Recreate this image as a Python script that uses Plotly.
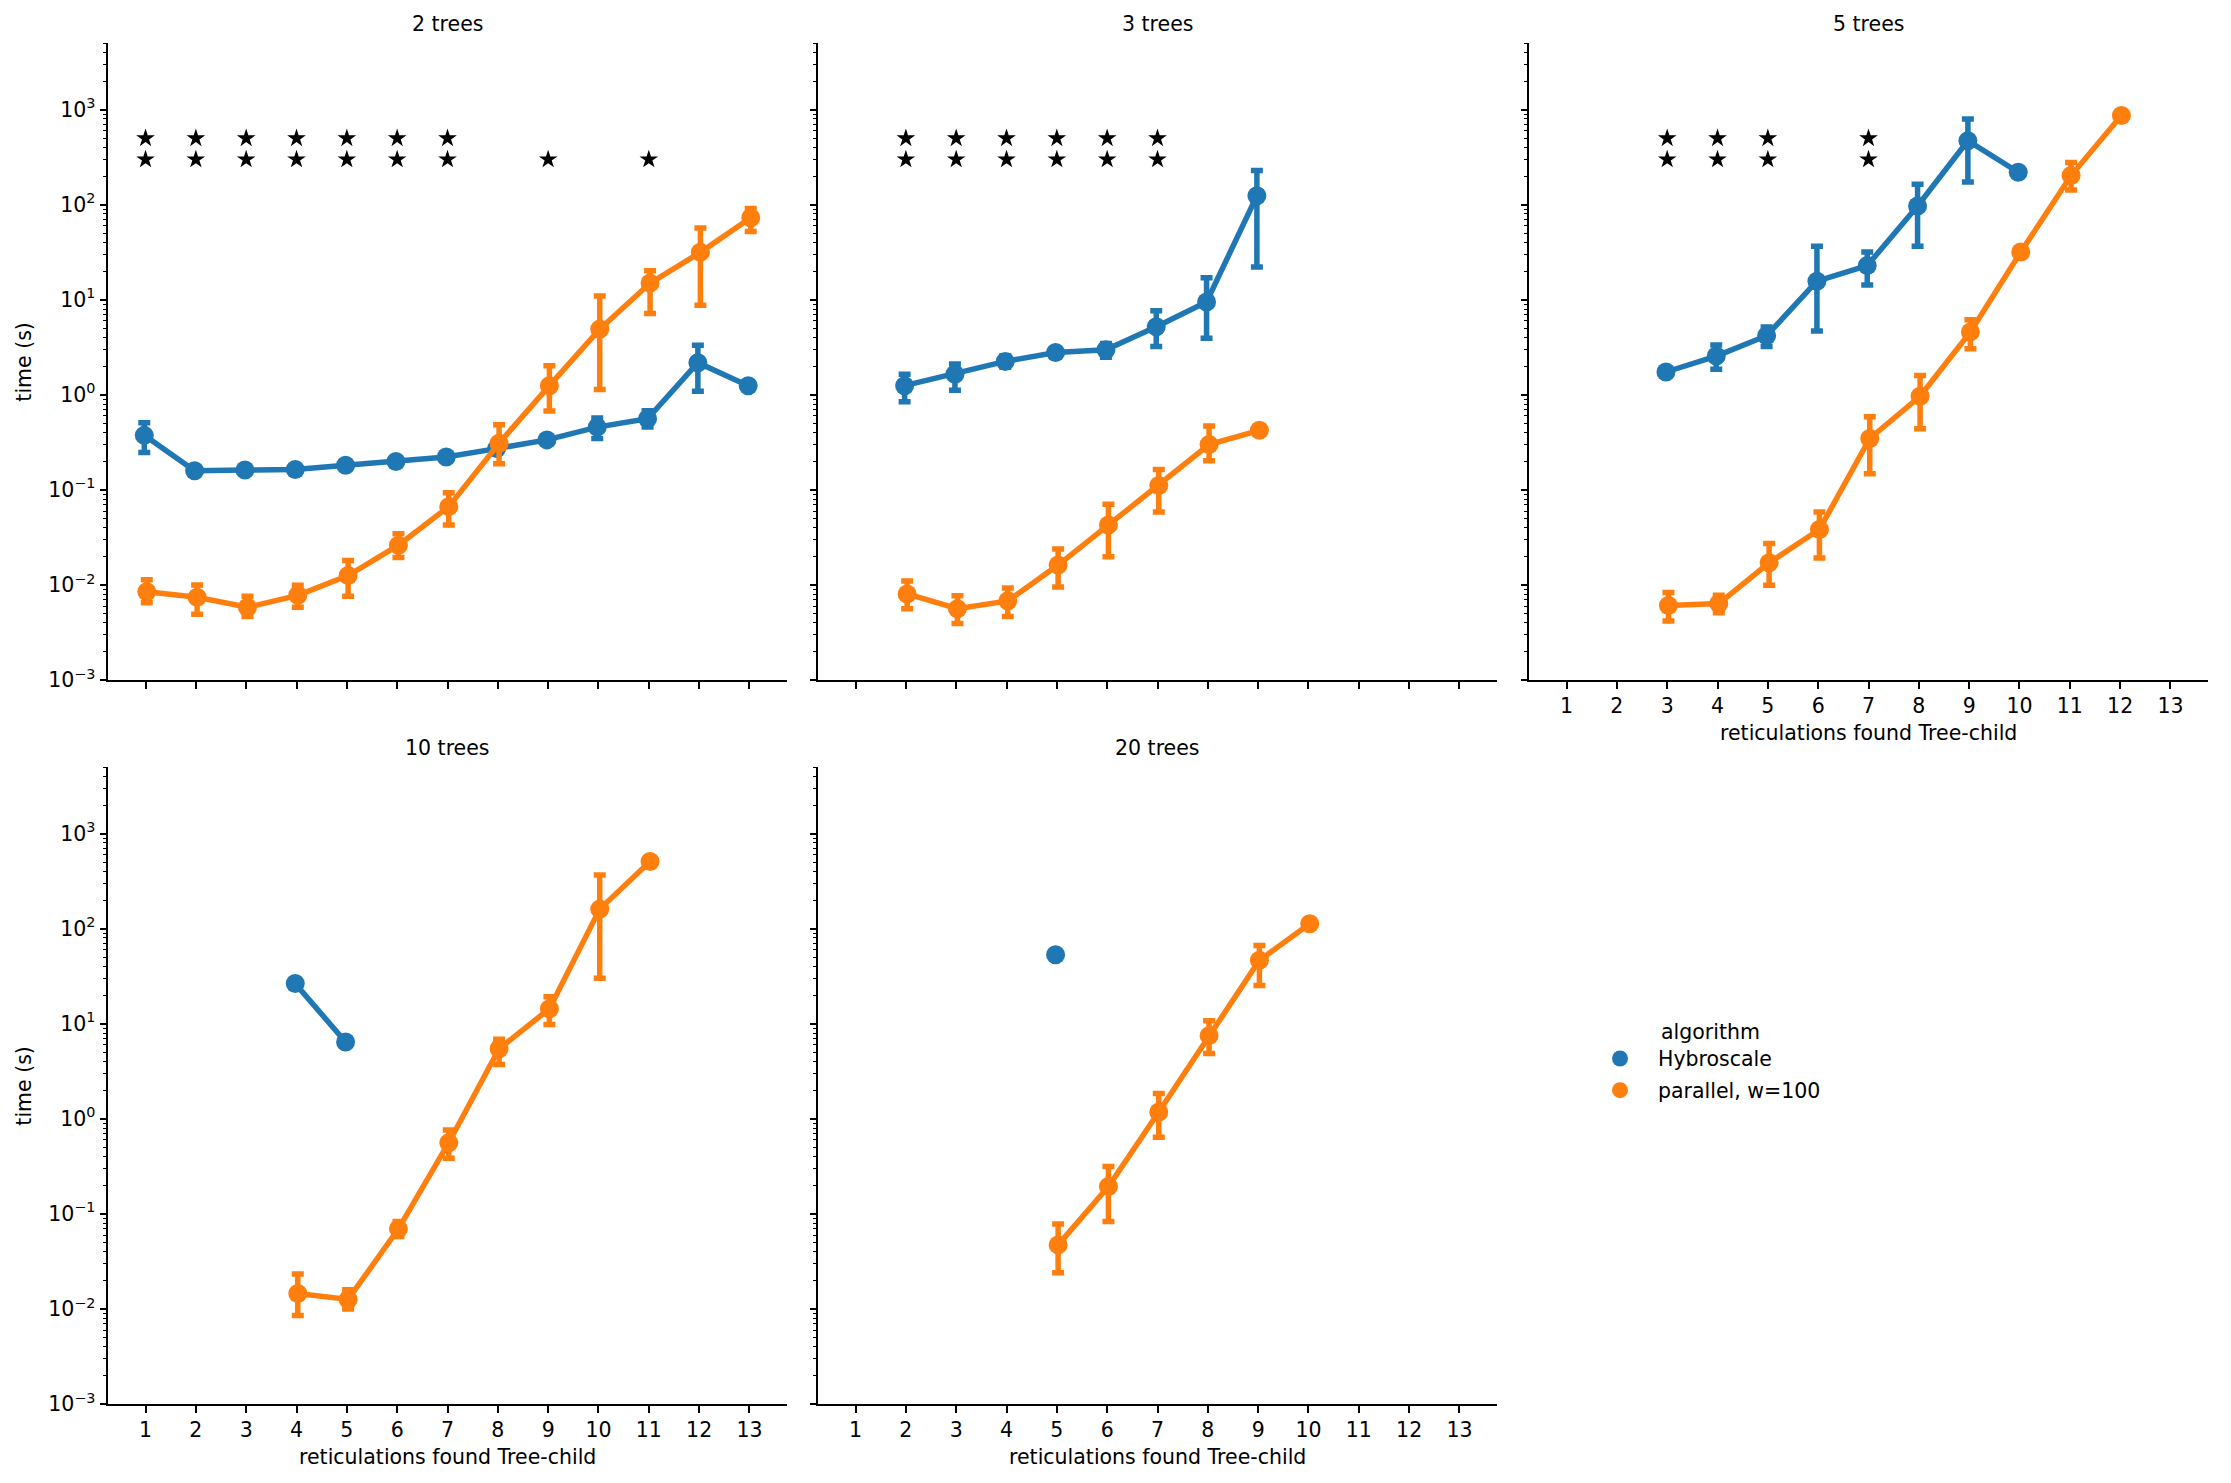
import plotly.graph_objects as go

# ---------------- data ----------------
PANEL_TITLES = ["2 trees", "3 trees", "5 trees", "10 trees", "20 trees"]
X_TICKS = list(range(1, 14))
Y_MAJOR = [1e-3, 1e-2, 1e-1, 1e0, 1e1, 1e2, 1e3]
Y_MAJOR_TEXT = ["10<sup>−3</sup>", "10<sup>−2</sup>", "10<sup>−1</sup>", "10<sup>0</sup>",
                "10<sup>1</sup>", "10<sup>2</sup>", "10<sup>3</sup>"]
ALGORITHMS = ["Hybroscale", "parallel, w=100"]

# 2 trees
hyb2_x = [1, 2, 3, 4, 5, 6, 7, 8, 9, 10, 11, 12, 13]
hyb2_y = [0.375, 0.159, 0.162, 0.164, 0.182, 0.199, 0.222, 0.272, 0.336, 0.458, 0.56, 2.18, 1.25]
hyb2_lo = [0.248, None, None, None, None, None, None, None, None, 0.347, 0.46, 1.09, None]
hyb2_hi = [0.51, None, None, None, None, None, None, None, None, 0.57, 0.68, 3.33, None]
par2_x = [1, 2, 3, 4, 5, 6, 7, 8, 9, 10, 11, 12, 13]
par2_y = [0.0085, 0.00743, 0.00582, 0.00778, 0.01256, 0.0262, 0.0667, 0.31, 1.25, 4.92, 15.0, 31.6, 72.9]
par2_lo = [0.0065, 0.00492, 0.00466, 0.00582, 0.0076, 0.0194, 0.0428, 0.188, 0.677, 1.14, 7.18, 8.78, 52.2]
par2_hi = [0.01135, 0.0100, 0.0076, 0.0099, 0.0181, 0.0346, 0.0933, 0.485, 2.02, 10.97, 20.2, 57.0, 91.2]
sig2 = [2, 2, 2, 2, 2, 2, 2, 0, 1, 0, 1, 0, 0]

# 3 trees
hyb3_x = [2, 3, 4, 5, 6, 7, 8, 9]
hyb3_y = [1.25, 1.65, 2.25, 2.79, 2.98, 5.2, 9.49, 124.4]
hyb3_lo = [0.846, 1.12, 1.95, 2.58, 2.49, 3.22, 3.94, 22.1]
hyb3_hi = [1.65, 2.11, 2.58, 3.05, 3.48, 7.68, 17.1, 229.6]
par3_x = [2, 3, 4, 5, 6, 7, 8, 9]
par3_y = [0.00804, 0.00562, 0.0068, 0.0162, 0.0428, 0.1114, 0.30, 0.424]
par3_lo = [0.00563, 0.00394, 0.00466, 0.0095, 0.0198, 0.0584, 0.203, None]
par3_hi = [0.011, 0.00769, 0.0093, 0.0239, 0.0706, 0.1644, 0.469, None]
sig3 = [0, 2, 2, 2, 2, 2, 2, 0, 0, 0, 0, 0, 0]

# 5 trees
hyb5_x = [3, 4, 5, 6, 7, 8, 9, 10]
hyb5_y = [1.74, 2.56, 4.19, 15.7, 22.9, 97, 472, 220]
hyb5_lo = [None, 1.86, 3.23, 4.7, 14.3, 36.6, 174, None]
hyb5_hi = [None, 3.35, 5.17, 36.6, 31.8, 164.5, 800, None]
par5_x = [3, 4, 5, 6, 7, 8, 9, 10, 11, 12]
par5_y = [0.00608, 0.00637, 0.0171, 0.0384, 0.348, 0.966, 4.6, 31.8, 203, 869]
par5_lo = [0.00418, 0.0051, 0.00995, 0.0192, 0.148, 0.44, 3.05, None, 143, None]
par5_hi = [0.00835, 0.0078, 0.0273, 0.0585, 0.59, 1.6, 6.16, None, 279, None]
sig5 = [0, 0, 2, 2, 2, 0, 2, 0, 0, 0, 0, 0, 0]

# 10 trees
hyb10_x = [4, 5]
hyb10_y = [26.5, 6.44]
hyb10_lo = [None, None]
hyb10_hi = [None, None]
par10_x = [4, 5, 6, 7, 8, 9, 10, 11]
par10_y = [0.01452, 0.01259, 0.0696, 0.561, 5.46, 14.4, 161, 511]
par10_lo = [0.00853, 0.0100, 0.058, 0.385, 3.74, 9.84, 30.2, None]
par10_hi = [0.0233, 0.0159, 0.083, 0.762, 6.9, 19.3, 367, None]
sig10 = [0] * 13

# 20 trees
hyb20_x = [5]
hyb20_y = [53.2]
hyb20_lo = [None]
hyb20_hi = [None]
par20_x = [5, 6, 7, 8, 9, 10]
par20_y = [0.0472, 0.194, 1.18, 7.51, 46.7, 113]
par20_lo = [0.0241, 0.0832, 0.639, 4.86, 25.3, None]
par20_hi = [0.0783, 0.315, 1.85, 10.8, 66.5, None]
sig20 = [0] * 13

PANELS = [
    (hyb2_x, hyb2_y, hyb2_lo, hyb2_hi, par2_x, par2_y, par2_lo, par2_hi, sig2),
    (hyb3_x, hyb3_y, hyb3_lo, hyb3_hi, par3_x, par3_y, par3_lo, par3_hi, sig3),
    (hyb5_x, hyb5_y, hyb5_lo, hyb5_hi, par5_x, par5_y, par5_lo, par5_hi, sig5),
    (hyb10_x, hyb10_y, hyb10_lo, hyb10_hi, par10_x, par10_y, par10_lo, par10_hi, sig10),
    (hyb20_x, hyb20_y, hyb20_lo, hyb20_hi, par20_x, par20_y, par20_lo, par20_hi, sig20),
]

# ---------------- style / layout ----------------
W, H = 2231, 1483
FONT = "DejaVu Sans"
FS = 20.5
COLORS = ["#1f77b4", "#ff7f0e"]
LW = 5.5
MS = 19
DODGE = [-0.025, 0.025]
STAR_Y_DOUBLE = [500, 300]
STAR_Y_SINGLE = [300]

COLS = [(108.3, 786.7), (818.3, 1496.7), (1529.3, 2207.7)]
ROWS = [(43.3, 680.0), (767.3, 1404.0)]
POS = [(0, 0), (0, 1), (0, 2), (1, 0), (1, 1)]

minor_vals = [k * 10.0 ** e for e in range(-3, 4) for k in range(2, 10) if k * 10.0 ** e <= 5000]

fig = go.Figure()


def err_arrays(y, lo, hi):
    plus = [(h - v) if h is not None else None for v, h in zip(y, hi)]
    minus = [(v - l) if l is not None else None for v, l in zip(y, lo)]
    return plus, minus


annotations = []
for i, (hx, hy, hlo, hhi, px, py, plo, phi, sig) in enumerate(PANELS):
    sfx = "" if i == 0 else str(i + 1)
    r, c = POS[i]
    x0, x1 = COLS[c]
    y0, y1 = ROWS[r]
    xdom = [x0 / W, x1 / W]
    ydom = [(H - y1) / H, (H - y0) / H]
    show_xlabels = i >= 2
    show_ylabels = c == 0

    fig.layout["xaxis" + sfx] = dict(
        domain=xdom, anchor="y" + sfx, range=[0.26, 13.74], automargin=False,
        tickmode="array", tickvals=X_TICKS, ticktext=[str(v) for v in X_TICKS],
        ticks="outside", ticklen=7, tickwidth=1.6, tickcolor="black",
        showline=True, linecolor="black", linewidth=1.6, showgrid=False, zeroline=False,
        showticklabels=show_xlabels, tickfont=dict(family=FONT, size=FS, color="black"),
    )
    fig.layout["yaxis" + sfx] = dict(
        domain=ydom, anchor="x" + sfx, type="log", range=[-3, 3.69897], automargin=False,
        tickmode="array", tickvals=Y_MAJOR, ticktext=Y_MAJOR_TEXT,
        ticks="outside", ticklen=7, tickwidth=1.6, tickcolor="black",
        minor=dict(tickmode="array", tickvals=minor_vals, ticks="outside", ticklen=4,
                   tickwidth=1.2, tickcolor="black", showgrid=False),
        showline=True, linecolor="black", linewidth=1.6, showgrid=False, zeroline=False,
        showticklabels=show_ylabels, tickfont=dict(family=FONT, size=FS, color="black"),
    )

    for k, (xs, ys, los, his) in enumerate([(hx, hy, hlo, hhi), (px, py, plo, phi)]):
        plus, minus = err_arrays(ys, los, his)
        fig.add_trace(go.Scatter(
            x=[v + DODGE[k] for v in xs], y=ys, mode="lines+markers",
            line=dict(color=COLORS[k], width=LW),
            marker=dict(color=COLORS[k], size=MS, line=dict(width=0)),
            error_y=dict(type="data", symmetric=False, array=plus, arrayminus=minus,
                         color=COLORS[k], thickness=LW, width=6),
            xaxis="x" + sfx, yaxis="y" + sfx, showlegend=False, name=ALGORITHMS[k],
        ))

    sx, sy = [], []
    for xv, n in zip(X_TICKS, sig):
        levels = STAR_Y_DOUBLE if n == 2 else (STAR_Y_SINGLE if n == 1 else [])
        for lv in levels:
            sx.append(xv)
            sy.append(lv)
    if sx:
        fig.add_trace(go.Scatter(
            x=sx, y=sy, mode="markers",
            marker=dict(symbol="star", color="black", size=14, line=dict(width=0)),
            xaxis="x" + sfx, yaxis="y" + sfx, showlegend=False,
        ))

    # panel title
    annotations.append(dict(
        text=PANEL_TITLES[i], xref="paper", yref="paper",
        x=(x0 + x1) / 2 / W, y=(H - (y0 - 19.5)) / H,
        xanchor="center", yanchor="middle", showarrow=False,
        font=dict(family=FONT, size=FS, color="black"),
    ))
    if show_ylabels:
        annotations.append(dict(
            text="time (s)", xref="paper", yref="paper",
            x=24 / W, y=(H - (y0 + y1) / 2) / H, textangle=-90,
            xanchor="center", yanchor="middle", showarrow=False,
            font=dict(family=FONT, size=FS, color="black"),
        ))
    if show_xlabels:
        annotations.append(dict(
            text="reticulations found Tree-child", xref="paper", yref="paper",
            x=(x0 + x1) / 2 / W, y=(H - (y1 + 53)) / H,
            xanchor="center", yanchor="middle", showarrow=False,
            font=dict(family=FONT, size=FS, color="black"),
        ))

# legend proxies
for k in range(2):
    fig.add_trace(go.Scatter(
        x=[None], y=[None], mode="markers", name=ALGORITHMS[k],
        marker=dict(color=COLORS[k], size=MS), legendgroup=ALGORITHMS[k],
        showlegend=True, xaxis="x", yaxis="y",
    ))

fig.update_layout(
    template="none",
    width=W, height=H, margin=dict(l=0, r=0, t=0, b=0, pad=0, autoexpand=False),
    paper_bgcolor="white", plot_bgcolor="white",
    font=dict(family=FONT, size=FS, color="black"),
    annotations=annotations,
    showlegend=True,
    legend=dict(
        x=1582 / W, y=(H - 1012) / H, xanchor="left", yanchor="top",
        title=dict(text="\u00a0\u00a0algorithm", side="top center", font=dict(family=FONT, size=FS)),
        font=dict(family=FONT, size=FS, color="black"),
        itemwidth=66, tracegroupgap=2, bgcolor="rgba(0,0,0,0)", borderwidth=0,
    ),
)

fig.write_html("out.html")
